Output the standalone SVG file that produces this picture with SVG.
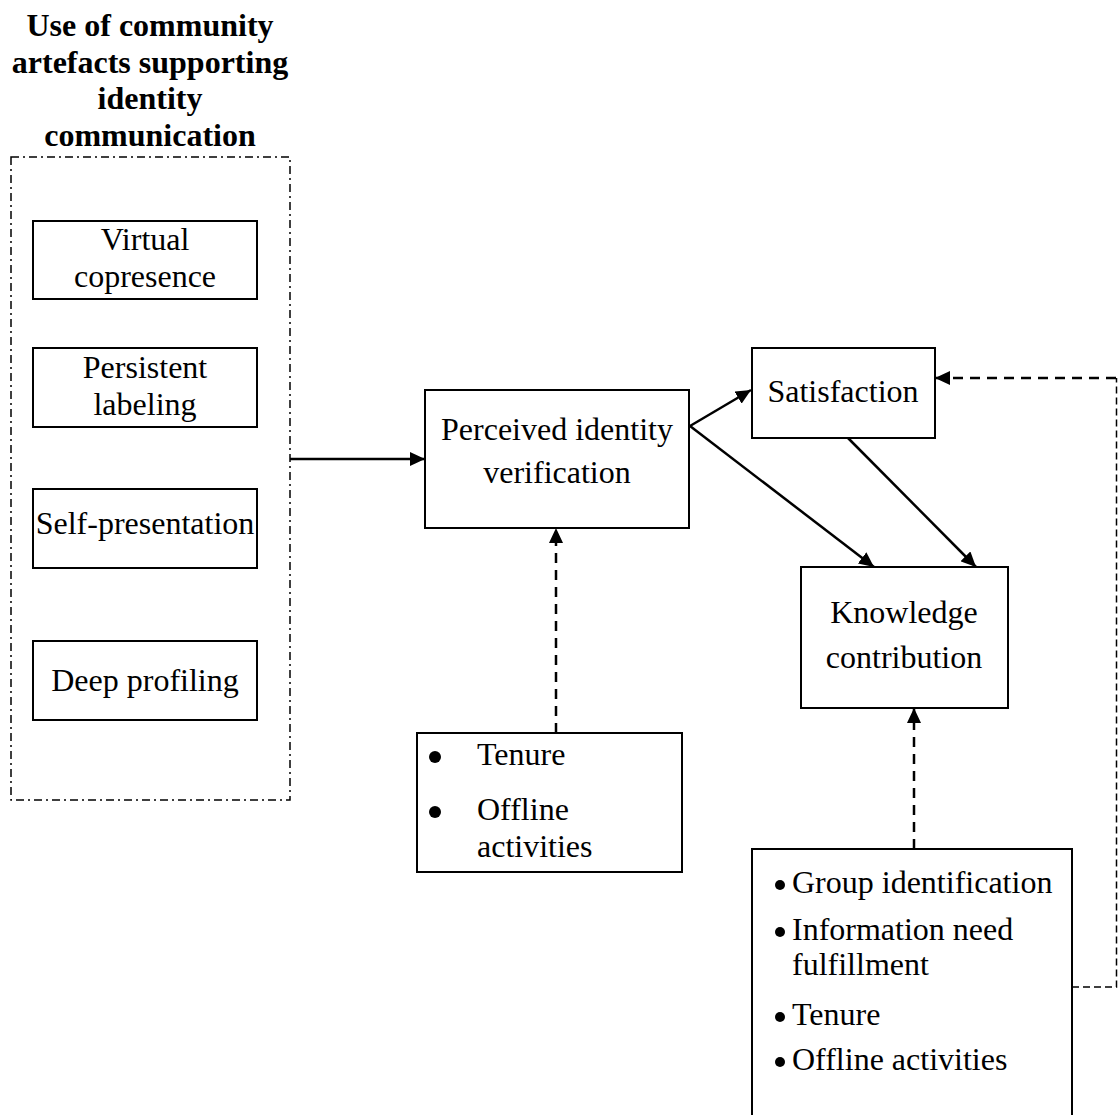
<svg xmlns="http://www.w3.org/2000/svg" width="1118" height="1115" viewBox="0 0 1118 1115">
  <style>
    .box { fill: #fff; stroke: #000; stroke-width: 2; }
    .lbl { font-family: "Liberation Serif", "Times New Roman", serif; font-size: 32px; fill: #000; }
    .mid { text-anchor: middle; }
    .title { font-family: "Liberation Serif", "Times New Roman", serif; font-size: 32px; font-weight: bold; text-anchor: middle; fill: #000; }
    .solid { fill: none; stroke: #000; stroke-width: 2.5; }
    .dash { fill: none; stroke: #000; stroke-width: 2.5; stroke-dasharray: 10 7; }
    .fine { fill: none; stroke: #000; stroke-width: 1.5; stroke-dasharray: 7 4; }
    .group { fill: none; stroke: #000; stroke-width: 1.5; stroke-dasharray: 8 4 2 4; }
  </style>
  <defs>
    <marker id="head" markerUnits="userSpaceOnUse" markerWidth="16" markerHeight="14" refX="15" refY="7" orient="auto">
      <path d="M0,0 L15,7 L0,14 z" fill="#000"/>
    </marker>
  </defs>
  <rect width="1118" height="1115" fill="#fff"/>

  <!-- artefact group -->
  <g id="artefacts">
    <text class="title" x="150" y="36">Use of community</text>
    <text class="title" x="150" y="73">artefacts supporting</text>
    <text class="title" x="150" y="109">identity</text>
    <text class="title" x="150" y="146">communication</text>
    <rect class="group" x="11" y="157" width="279" height="643"/>
  </g>
  <g id="virtual-copresence">
    <rect class="box" x="33" y="221" width="224" height="78"/>
    <text class="lbl mid" x="145" y="250">Virtual</text>
    <text class="lbl mid" x="145" y="287">copresence</text>
  </g>
  <g id="persistent-labeling">
    <rect class="box" x="33" y="348" width="224" height="79"/>
    <text class="lbl mid" x="145" y="378">Persistent</text>
    <text class="lbl mid" x="145" y="415">labeling</text>
  </g>
  <g id="self-presentation">
    <rect class="box" x="33" y="489" width="224" height="79"/>
    <text class="lbl mid" x="145" y="534">Self-presentation</text>
  </g>
  <g id="deep-profiling">
    <rect class="box" x="33" y="641" width="224" height="79"/>
    <text class="lbl mid" x="145" y="691">Deep profiling</text>
  </g>

  <g id="identity-verification">
    <rect class="box" x="425" y="390" width="264" height="138"/>
    <text class="lbl mid" x="557" y="440">Perceived identity</text>
    <text class="lbl mid" x="557" y="483">verification</text>
  </g>
  <g id="satisfaction">
    <rect class="box" x="752" y="348" width="183" height="90"/>
    <text class="lbl mid" x="843" y="402">Satisfaction</text>
  </g>
  <g id="knowledge-contribution">
    <rect class="box" x="801" y="567" width="207" height="141"/>
    <text class="lbl mid" x="904" y="623">Knowledge</text>
    <text class="lbl mid" x="904" y="668">contribution</text>
  </g>

  <g id="controls-verification">
    <rect class="box" x="417" y="733" width="265" height="139"/>
    <circle cx="435" cy="757" r="6"/>
    <text class="lbl" x="477" y="765">Tenure</text>
    <circle cx="435" cy="812" r="6"/>
    <text class="lbl" x="477" y="820">Offline</text>
    <text class="lbl" x="477" y="857">activities</text>
  </g>
  <g id="controls-contribution">
    <path class="box" d="M752,1116 V849 H1072 V1116"/>
    <circle cx="780" cy="885" r="5"/>
    <text class="lbl" x="792" y="893">Group identification</text>
    <circle cx="780" cy="932" r="5"/>
    <text class="lbl" x="792" y="940">Information need</text>
    <text class="lbl" x="792" y="975">fulfillment</text>
    <circle cx="780" cy="1017" r="5"/>
    <text class="lbl" x="792" y="1025">Tenure</text>
    <circle cx="780" cy="1062" r="5"/>
    <text class="lbl" x="792" y="1070">Offline activities</text>
  </g>

  <!-- connectors -->
  <g id="connectors">
    <line class="solid" x1="290" y1="459" x2="425" y2="459" marker-end="url(#head)"/>
    <line class="solid" x1="690" y1="426" x2="751" y2="390" marker-end="url(#head)"/>
    <line class="solid" x1="690" y1="426" x2="874" y2="567" marker-end="url(#head)"/>
    <line class="solid" x1="848" y1="438" x2="976" y2="567" marker-end="url(#head)"/>
    <line class="dash" x1="556" y1="733" x2="556" y2="528" marker-end="url(#head)"/>
    <line class="dash" x1="914" y1="849" x2="914" y2="708" marker-end="url(#head)"/>
    <path class="fine" d="M1072,987 H1116.5 V378"/>
    <line class="dash" x1="1116" y1="378" x2="935" y2="378" marker-end="url(#head)"/>
  </g>
</svg>
